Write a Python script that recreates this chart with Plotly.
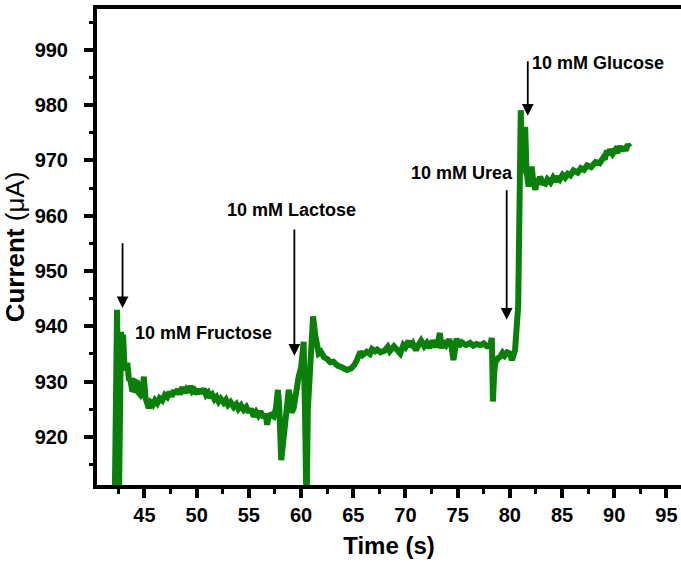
import plotly.graph_objects as go

# amperometric response trace
time_s = [
    42.10, 42.37, 42.55, 42.75, 42.85, 42.95, 43.10, 43.35, 43.50, 43.66,
    43.80, 43.98, 44.10, 44.31, 44.45, 44.62, 44.80, 44.94, 45.10, 45.41,
    45.60, 45.80, 46.00, 46.22, 46.45, 46.70, 46.95, 47.18, 47.40, 47.60,
    47.81, 48.00, 48.20, 48.40, 48.61, 48.80, 49.00, 49.20, 49.42, 49.60,
    49.80, 50.05, 50.25, 50.45, 50.68, 50.90, 51.10, 51.30, 51.50, 51.70,
    51.90, 52.10, 52.30, 52.59, 52.80, 53.00, 53.25, 53.55, 53.80, 54.00,
    54.25, 54.51, 54.75, 55.00, 55.20, 55.46, 55.70, 55.90, 56.10, 56.42,
    56.60, 56.75, 56.90, 57.10, 57.38, 57.60, 57.78, 57.90, 58.10, 58.30,
    58.50, 58.70, 58.82, 58.95, 59.10, 59.29, 59.50, 59.77, 60.00, 60.25,
    60.42, 60.52, 60.65, 60.80, 60.95, 61.15, 61.35, 61.50, 61.69, 61.90,
    62.20, 62.50, 62.80, 63.10, 63.50, 63.90, 64.40, 64.80, 65.10, 65.35,
    65.50, 65.67, 65.90, 66.30, 66.60, 66.80, 67.10, 67.30, 67.60, 68.00,
    68.30, 68.50, 68.90, 69.20, 69.50, 69.80, 70.00, 70.30, 70.45, 70.70,
    71.00, 71.30, 71.50, 71.80, 72.05, 72.30, 72.60, 72.90, 73.10, 73.30,
    73.45, 73.60, 73.90, 74.20, 74.40, 74.60, 74.75, 74.90, 75.10, 75.40,
    75.80, 76.20, 76.50, 76.80, 77.20, 77.50, 77.80, 78.10, 78.28, 78.38,
    78.50, 78.60, 78.85, 79.07, 79.30, 79.50, 79.75, 80.00, 80.20, 80.35,
    80.50, 80.80, 81.00, 81.05, 81.15, 81.30, 81.47, 81.60, 81.80, 81.95,
    82.10, 82.25, 82.45, 82.60, 82.75, 82.90, 83.10, 83.40, 83.60, 83.90,
    84.15, 84.40, 84.60, 84.80, 85.05, 85.30, 85.55, 85.80, 86.10, 86.50,
    86.80, 87.10, 87.40, 87.80, 88.20, 88.60, 88.95, 89.10, 89.30, 89.45,
    89.60, 89.85, 90.10, 90.30, 90.50, 90.70, 90.90, 91.10, 91.30, 91.50,
]
current_ua = [
    900.0, 943.0, 908.0, 939.0, 932.0, 938.5, 932.0, 933.4, 930.5, 930.3,
    928.6, 928.5, 930.0, 929.8, 928.0, 927.6, 928.2, 930.9, 927.0, 925.2,
    926.2, 925.8, 926.6, 926.1, 927.0, 926.6, 927.6, 927.2, 928.1, 927.3,
    928.4, 927.8, 928.6, 927.7, 929.0, 928.0, 928.6, 928.1, 929.2, 928.2,
    928.5, 927.8, 928.6, 927.9, 928.7, 927.6, 928.0, 927.1, 927.6, 926.8,
    927.2, 926.4, 926.9, 926.2, 926.7, 925.8, 926.3, 925.4, 925.9, 925.1,
    925.7, 924.9, 925.4, 924.4, 925.1, 923.7, 924.5, 923.9, 924.6, 923.5,
    924.2, 922.2, 923.8, 924.0, 923.7, 925.2, 928.5, 926.0, 915.8, 919.5,
    921.0, 924.5, 928.5, 927.2, 924.4, 925.2, 928.4, 930.9, 932.5, 937.2,
    920.0, 906.0, 925.0, 932.0, 935.7, 941.8, 938.5, 936.2, 935.1, 935.4,
    934.4, 934.1, 933.5, 933.6, 932.9, 932.6, 932.1, 932.4, 933.0, 933.9,
    935.2, 935.4, 934.8, 935.4, 935.0, 935.9, 935.5, 935.8, 935.3, 935.6,
    936.3, 935.5, 936.4, 935.8, 935.1, 936.6, 936.2, 937.4, 936.3, 936.9,
    935.7, 936.8, 937.4, 936.4, 937.0, 936.1, 937.4, 936.3, 937.0, 938.8,
    936.0, 937.3, 936.6, 937.6, 936.5, 933.9, 936.8, 937.8, 936.4, 937.1,
    936.6, 937.0, 936.5, 936.8, 936.6, 936.9, 936.4, 936.4, 937.9, 926.4,
    931.5, 933.4, 934.2, 934.5, 935.2, 934.7, 935.3, 935.1, 933.9, 935.0,
    935.7, 943.6, 964.7, 979.1, 967.7, 970.0, 976.1, 968.0, 965.3, 967.5,
    968.9, 966.0, 964.7, 966.8, 965.6, 967.1, 966.0, 965.8, 966.6, 966.0,
    966.9, 966.2, 967.1, 966.6, 967.4, 966.9, 967.6, 967.3, 968.2, 967.8,
    968.6, 968.3, 969.1, 968.8, 969.7, 969.5, 970.5, 970.2, 971.8, 971.0,
    972.0, 971.2, 971.9, 971.4, 972.6, 971.7, 972.5, 971.8, 972.9, 972.4,
]

# analyte additions: label, label position, arrow x, arrow tail / tip
labels = ["10 mM Fructose", "10 mM Lactose", "10 mM Urea", "10 mM Glucose"]
label_x = [50.65, 59.07, 75.43, 88.45]
label_y = [938.8, 961.1, 967.7, 987.6]
arrow_x = [42.90, 59.36, 79.70, 81.72]
arrow_tail = [955.3, 957.8, 964.9, 988.2]
arrow_tip = [943.3, 934.7, 941.2, 978.1]

FONT = "Arial, Liberation Sans, sans-serif"

fig = go.Figure()
fig.add_trace(go.Scatter(
    x=time_s, y=current_ua, mode="lines",
    line=dict(color="#0a800a", width=6),
    showlegend=False,
))

for i in range(len(labels)):
    fig.add_annotation(
        x=arrow_x[i], y=arrow_tip[i], ax=arrow_x[i], ay=arrow_tail[i],
        xref="x", yref="y", axref="x", ayref="y",
        text="", showarrow=True, arrowhead=2, arrowsize=1.3,
        arrowwidth=1.8, arrowcolor="black",
    )
    fig.add_annotation(
        x=label_x[i], y=label_y[i], xref="x", yref="y",
        text=labels[i], showarrow=False,
        font=dict(family=FONT, size=18, color="black", weight="bold"),
    )

axis_common = dict(
    showline=True, linewidth=4, linecolor="black",
    ticks="outside", ticklen=9, tickwidth=4, tickcolor="black",
    showgrid=False, zeroline=False,
    tickfont=dict(family=FONT, size=20, color="black", weight="bold"),
)

fig.update_xaxes(
    range=[40.45, 96.4], tick0=0, dtick=5, mirror=True,
    minor=dict(ticks="outside", ticklen=5, tickwidth=3, tickcolor="black", dtick=2.5, tick0=0),
    title=dict(text="Time (s)", standoff=13,
               font=dict(family=FONT, size=24, color="black", weight="bold")),
    **axis_common,
)
fig.update_yaxes(
    range=[911.3, 997.4], tick0=0, dtick=10, ticklabelstandoff=12,
    minor=dict(ticks="outside", ticklen=4, tickwidth=3, tickcolor="black", dtick=5, tick0=0),
    title=dict(text="Current <span style='font-weight:normal'>(\u03bcA)</span>", standoff=4,
               font=dict(family=FONT, size=26, color="black", weight="bold")),
    **axis_common,
)

fig.update_layout(
    width=681, height=564,
    margin=dict(l=97, r=0, t=9, b=79),
    plot_bgcolor="white", paper_bgcolor="white",
)

# drop the default page margin so the figure fills the window exactly
fig.write_html("out.html", config={"displayModeBar": False},
               post_script="document.body.style.margin = '0';")
